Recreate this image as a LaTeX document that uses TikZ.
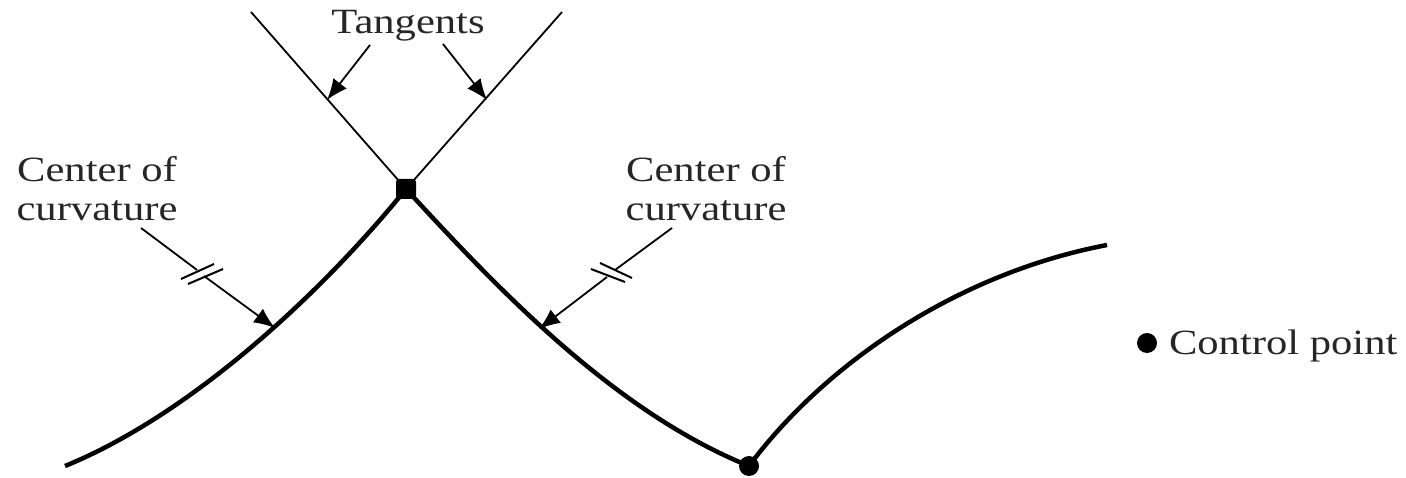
\documentclass[tikz,border=0pt]{standalone}
\usepackage{fontspec}
\setmainfont{Liberation Serif}
\usetikzlibrary{arrows.meta}
\tikzset{
  lbl/.style={inner sep=0pt,outer sep=0pt,align=center,font=\fontsize{35.5}{39}\selectfont,text=black!85,xscale=1.2,transform shape},
  curve/.style={line width=4.5pt,black},
  thin line/.style={line width=1.8pt,black},
  lead/.style={line width=1.8pt,black,-{Latex[length=21pt,width=17pt]}},
  brk/.style={line width=2pt,black},
  ctrl/.style={circle,fill=black,inner sep=0pt,minimum size=20pt},
}
\begin{document}
\begin{tikzpicture}[x=1pt,y=-1pt]
\useasboundingbox (0,0) rectangle (1406,478);
% control points
\node[fill=black,rounded corners=3pt,inner sep=0pt,minimum size=20pt] (top) at (406,189) {};
\node[ctrl] (bot) at (749,466) {};
\node[ctrl] (key) at (1147,343) {};
\coordinate (cl) at (65,466);
\coordinate (cr) at (1107,245);
\coordinate (t1) at (251,12);
\coordinate (t2) at (562,12);
\coordinate (a1) at (327,100);
\coordinate (a2) at (487,100);
% curves
\draw[curve] (cl) .. controls (190,415) and (320,295) .. (top.center);
\draw[curve] (top.center) .. controls (490,280) and (610,410) .. (bot.center);
\draw[curve] (bot.center) .. controls (820,370) and (950,275) .. (cr);
% tangents
\draw[thin line] (t1) -- (top.center);
\draw[thin line] (t2) -- (top.center);
% labels
\node[lbl] (tan) at (408,26) {Tangents};
\node[lbl] (c1) at (97,189) {Center of\\curvature};
\node[lbl] (c2) at (706,189) {Center of\\curvature};
\node[lbl,anchor=west] (cp) at (1169,346) {Control point};
% leaders
\coordinate (l1) at (370,45);
\coordinate (l2) at (443,44);
\draw[lead] (l1) -- (a1);
\draw[lead] (l2) -- (a2);
\coordinate (s1) at (141,228);
\coordinate (m1a) at (197,270);
\coordinate (m1b) at (204,276);
\coordinate (h1) at (275,328);
\draw[thin line] (s1) -- (m1a);
\draw[lead] (m1b) -- (h1);
\draw[brk] (181,279) -- (214,264);
\draw[brk] (188,284) -- (223,269);
\coordinate (s2) at (672,228);
\coordinate (m2a) at (615,270);
\coordinate (m2b) at (607,277);
\coordinate (h2) at (539,329);
\draw[thin line] (s2) -- (m2a);
\draw[lead] (m2b) -- (h2);
\draw[brk] (591,269) -- (625,282);
\draw[brk] (600,263) -- (632,278);
\end{tikzpicture}
\end{document}
